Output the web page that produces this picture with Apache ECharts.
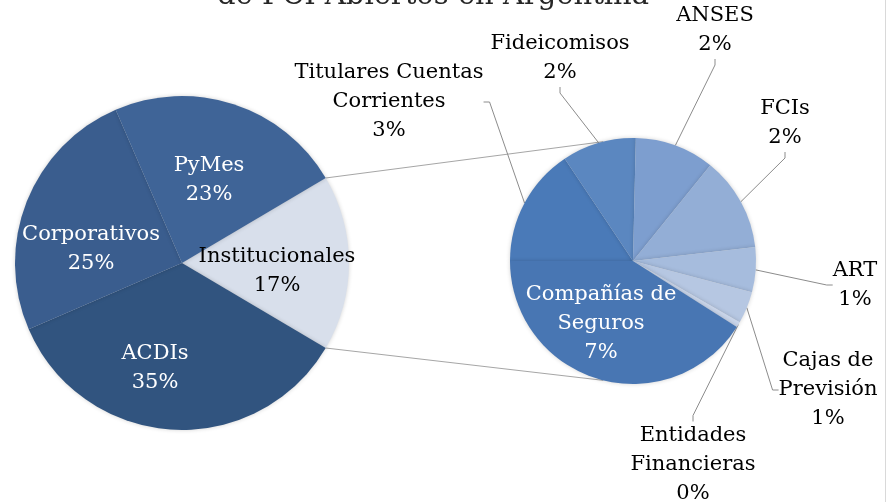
<!DOCTYPE html>
<html>
<head>
<meta charset="utf-8">
<script src="https://cdn.jsdelivr.net/npm/echarts@6/dist/echarts.min.js"></script>
<style>
    html, body { margin: 0; padding: 0; background: #fff; }
    #chart { width: 895px; height: 502px; }
</style>
</head>
<body>
<div id="chart"></div>
<script>
// pie principal (% del total)
var mainNames = ["Institucionales", "ACDIs", "Corporativos", "PyMes"];
var mainValues = [17, 35, 25, 23];

// pie secundario: desglose de Institucionales (% del total)
var subNames = ["Titulares Cuentas\nCorrientes", "Fideicomisos", "ANSES", "FCIs", "ART",
    "Cajas de\nPrevisión", "Entidades\nFinancieras", "Compañías de\nSeguros"];
var subValues = [2.65, 1.65, 1.77, 2.1, 1.0, 0.71, 0.12, 6.95];

var titleText = "de FCI Abiertos en Argentina";

// geometria
var C1 = [182, 263], R1 = 167;
var C2 = [633, 261], R2 = 123;
var mainStart = 90 * mainValues[0] / 50; // Institucionales centrado a la derecha
var mainColors = ["#d8dfeb", "#31547f", "#3a5d8e", "#3f6497"];
var subColors = ["#4a7ab8", "#5b87c0", "#7d9ecf", "#93aed6", "#a6bcdd", "#b6c7e2", "#c9d5ea", "#4876b3"];

// posiciones de etiquetas (centro del bloque de texto)
var mainLabelPos = [[277, 271], [155, 368], [91, 249], [209, 180]];
var subLabelPos = [[389, 102], [560, 58], [715, 30], [785, 123], [855, 285], [828, 390], [693, 465], [601, 324]];

var font = "'DejaVu Serif', serif";
var myChart = echarts.init(document.getElementById("chart"));

function pct(v) {
    return Math.round(v) + "%";
}

var mainData = mainValues.map(function (v, i) {
    return {
        name: mainNames[i],
        value: v,
        itemStyle: { color: mainColors[i] },
        label: { color: i === 0 ? "#000" : "#fff" }
    };
});

var subData = subValues.map(function (v, i) {
    var inside = i === subValues.length - 1;
    return {
        name: subNames[i],
        value: v,
        itemStyle: { color: subColors[i] },
        label: inside ? { position: "inside", color: "#fff" } : { position: "outside", color: "#000" },
        labelLine: { show: !inside }
    };
});

// lineas de conexion entre los dos pies
var half = 180 * mainValues[0] / 100;
var a1 = half * Math.PI / 180;
var a2 = 104 * Math.PI / 180;
var connectors = [
    [C1[0] + R1 * Math.cos(a1), C1[1] - R1 * Math.sin(a1), C2[0] + R2 * Math.cos(a2), C2[1] - R2 * Math.sin(a2)],
    [C1[0] + R1 * Math.cos(a1), C1[1] + R1 * Math.sin(a1), C2[0] + R2 * Math.cos(a2), C2[1] + R2 * Math.sin(a2)]
];

var graphics = connectors.map(function (c) {
    return {
        type: "line",
        z: 1,
        shape: { x1: c[0], y1: c[1], x2: c[2], y2: c[3] },
        style: { stroke: "#a6a6a6", lineWidth: 1 }
    };
});
graphics.push({
    type: "line",
    shape: { x1: 885.5, y1: 0, x2: 885.5, y2: 502 },
    style: { stroke: "#d9d9d9", lineWidth: 1 }
});
graphics.push({
    type: "text",
    x: 433,
    y: 11,
    style: {
        text: titleText,
        font: "29px " + font,
        fill: "#262626",
        align: "center",
        verticalAlign: "bottom"
    }
});

var option = {
    backgroundColor: "#fff",
    animation: false,
    graphic: graphics,
    series: [
        {
            type: "pie",
            center: C1,
            radius: R1,
            startAngle: mainStart,
            clockwise: true,
            avoidLabelOverlap: false,
            z: 2,
            itemStyle: {
                borderWidth: 0,
                shadowBlur: 4,
                shadowColor: "rgba(0,0,0,0.18)"
            },
            label: {
                position: "inside",
                fontFamily: font,
                fontSize: 21,
                lineHeight: 29,
                align: "center",
                formatter: function (p) {
                    return p.name + "\n" + pct(p.value);
                }
            },
            labelLine: { show: false },
            labelLayout: function (p) {
                var pos = mainLabelPos[p.dataIndex];
                return { x: pos[0], y: pos[1], align: "center", verticalAlign: "middle" };
            },
            data: mainData
        },
        {
            type: "pie",
            center: C2,
            radius: R2,
            startAngle: 180,
            clockwise: true,
            avoidLabelOverlap: false,
            z: 2,
            itemStyle: {
                borderWidth: 0,
                shadowBlur: 4,
                shadowColor: "rgba(0,0,0,0.18)"
            },
            label: {
                fontFamily: font,
                fontSize: 21,
                lineHeight: 29,
                align: "center",
                formatter: function (p) {
                    return p.name + "\n" + pct(p.value);
                }
            },
            labelLine: {
                length: 10,
                length2: 6,
                lineStyle: { color: "#8c8c8c", width: 1 }
            },
            labelLayout: function (p) {
                var pos = subLabelPos[p.dataIndex];
                return { x: pos[0], y: pos[1], align: "center", verticalAlign: "middle" };
            },
            data: subData
        }
    ]
};

myChart.setOption(option);
</script>
</body>
</html>
